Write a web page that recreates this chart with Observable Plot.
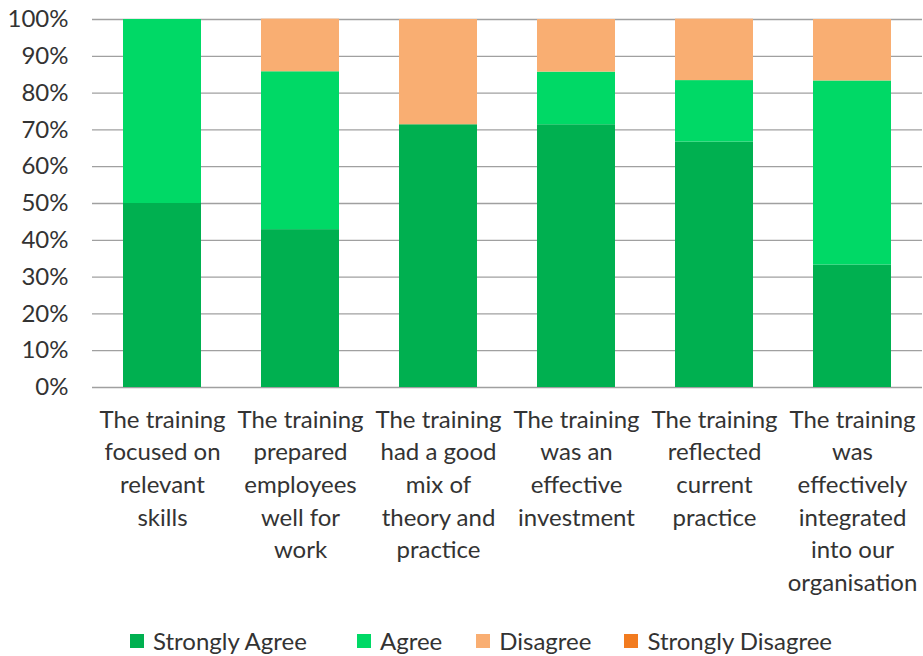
<!DOCTYPE html>
<html>
<head>
<meta charset="utf-8">
<script src="https://cdn.jsdelivr.net/npm/d3@7"></script>
<script src="https://cdn.jsdelivr.net/npm/@observablehq/plot@0.6"></script>
<style>
  body { margin: 0; background: #fff; font-family: Lato, "Open Sans", sans-serif; }
  #chart { width: 923px; }
  .legend { display: flex; justify-content: flex-start; font-size: 24px; color: #333; margin-top: 6px; padding-left: 130px; line-height: 29px; }
  .legend .item { display: flex; align-items: center; }
  .legend .sw { width: 14px; height: 14px; margin-right: 9px; }
</style>
</head>
<body>
<div id="chart"></div>
<script>
const categories = [
  "The training\nfocused on\nrelevant\nskills",
  "The training\nprepared\nemployees\nwell for\nwork",
  "The training\nhad a good\nmix of\ntheory and\npractice",
  "The training\nwas an\neffective\ninvestment",
  "The training\nreflected\ncurrent\npractice",
  "The training\nwas\neffectively\nintegrated\ninto our\norganisation"
];
const responses = ["Strongly Agree", "Agree", "Disagree", "Strongly Disagree"];
const colors = ["#00B050", "#00D966", "#F9AE72", "#F27B1F"];
const stronglyAgree = [0.500, 0.429, 0.714, 0.714, 0.667, 0.333];
const agree         = [0.500, 0.429, 0.000, 0.143, 0.167, 0.500];
const disagree      = [0.000, 0.143, 0.286, 0.143, 0.167, 0.167];
const stronglyDisagree = [0, 0, 0, 0, 0, 0];
const yTicks = [0, 0.1, 0.2, 0.3, 0.4, 0.5, 0.6, 0.7, 0.8, 0.9, 1.0];

const series = [stronglyAgree, agree, disagree, stronglyDisagree];
const data = [];
categories.forEach((c, i) => {
  responses.forEach((r, j) => data.push({cat: c, resp: r, value: series[j][i]}));
});

const chart = Plot.plot({
  width: 923,
  height: 620,
  marginTop: 19,
  marginBottom: 233,
  marginLeft: 92,
  marginRight: 1,
  style: { fontFamily: "Lato, 'Open Sans', sans-serif", fontSize: "24px", color: "#333", background: "#fff" },
  x: { domain: categories, paddingInner: 0.436, paddingOuter: 0.218, label: null },
  y: { domain: [0, 1], label: null },
  color: { domain: responses, range: colors },
  marks: [
    Plot.gridY(yTicks, { stroke: "#A0A0A0", strokeOpacity: 1, strokeWidth: 1.3 }),
    Plot.barY(data, { x: "cat", y: "value", fill: "resp", order: responses }),
    Plot.axisY(yTicks, { tickSize: 0, tickPadding: 24, tickFormat: d3.format(".0%"), label: null, fontSize: 24 }),
    Plot.axisX({ tickSize: 0, tickPadding: 17, label: null, lineHeight: 1.36, fontSize: 24 })
  ]
});
document.getElementById("chart").appendChild(chart);

const legendGaps = [0, 50, 34, 33];
const legend = document.createElement("div");
legend.className = "legend";
responses.forEach((r, j) => {
  const it = document.createElement("div");
  it.className = "item";
  it.style.marginLeft = legendGaps[j] + "px";
  const sw = document.createElement("span");
  sw.className = "sw";
  sw.style.background = colors[j];
  const t = document.createElement("span");
  t.textContent = r;
  it.appendChild(sw); it.appendChild(t);
  legend.appendChild(it);
});
document.getElementById("chart").appendChild(legend);
</script>
</body>
</html>
